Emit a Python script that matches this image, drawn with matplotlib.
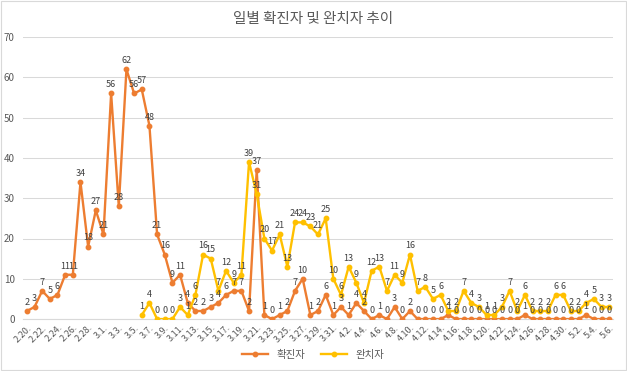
import matplotlib
matplotlib.use("Agg")
import matplotlib.pyplot as plt
from matplotlib.patches import Rectangle

plt.rcParams['font.family'] = ['Noto Sans CJK KR', 'DejaVu Sans']

# dates 2.20 ~ 5.6 (2020, leap year)
dates = (["2.%d." % d for d in range(20, 30)] +
         ["3.%d." % d for d in range(1, 32)] +
         ["4.%d." % d for d in range(1, 31)] +
         ["5.%d." % d for d in range(1, 7)])

confirmed = [2, 3, 7, 5, 6, 11, 11, 34, 18, 27,
             21, 56, 28, 62, 56, 57, 48, 21, 16, 9, 11, 4, 2, 2, 3, 4, 6, 7, 7, 2,
             37, 1, 0, 1, 2, 7, 10, 1, 2, 6, 1,
             3, 1, 4, 2, 0, 1, 0, 3, 0, 2, 0, 0, 0, 0, 1, 0, 0, 0, 0, 0,
             0, 0, 0, 0, 1, 0, 0, 0, 0, 0,
             0, 0, 1, 0, 0, 0]

# recovered starts on 3.6
recovered = [None] * 15 + [1, 4, 0, 0, 0, 3, 1, 6, 16, 15, 7, 12, 9, 11, 39,
                           31, 20, 17, 21, 13, 24, 24, 23, 21, 25, 10,
                           6, 13, 9, 4, 12, 13, 7, 11, 9, 16, 7, 8, 5, 6, 2,
                           2, 7, 4, 3, 1, 1, 3, 7, 2, 6, 2, 2, 2, 6, 6,
                           2, 2, 4, 5, 3, 3]

orange = '#ED7D31'
yellow = '#FFC000'
txt = '#595959'

fig = plt.figure(figsize=(6.27, 3.71), dpi=100)
ax = fig.add_axes([0.0367, 0.140, 0.941, 0.760])

x = list(range(len(dates)))
ax.plot(x, confirmed, color=orange, lw=1.7, marker='o', ms=3.2, label='확진자', zorder=3)
rx = [i for i in x if recovered[i] is not None]
ry = [recovered[i] for i in rx]
ax.plot(rx, ry, color=yellow, lw=1.7, marker='o', ms=3.2, label='완치자', zorder=3)

# data labels
for i, v in enumerate(confirmed):
    ax.annotate(str(v), (i, v), xytext=(0, 3), textcoords='offset points',
                ha='center', va='bottom', fontsize=6.5, color='#404040', zorder=4)
for i, v in zip(rx, ry):
    ax.annotate(str(v), (i, v), xytext=(0, 3), textcoords='offset points',
                ha='center', va='bottom', fontsize=6.5, color='#404040', zorder=4)

ax.set_xlim(-0.5, len(dates) - 0.5)
ax.set_ylim(0, 70)
ax.set_yticks(range(0, 71, 10))
ax.set_xticks(x[::2])
ax.set_xticklabels(dates[::2], rotation=45, ha='right', va='top',
                   rotation_mode='anchor', fontsize=6.5, color=txt)
ax.tick_params(axis='y', labelsize=7, colors=txt, length=0, pad=6)
ax.tick_params(axis='x', length=0, pad=3)
ax.grid(axis='y', color='#D9D9D9', lw=0.75)
ax.set_axisbelow(True)
for s in ['top', 'right', 'left']:
    ax.spines[s].set_visible(False)
ax.spines['bottom'].set_color('#D9D9D9')

fig.suptitle('일별 확진자 및 완치자 추이', y=0.967, fontsize=10.5, color=txt)
fig.legend(loc='lower center', bbox_to_anchor=(0.5, 0.005), ncol=2, frameon=False,
           fontsize=7.5, labelcolor=txt, handlelength=2.5, columnspacing=1.5)

# chart border
fig.patches.append(Rectangle((0.002, 0.003), 0.996, 0.994, transform=fig.transFigure,
                             fill=False, edgecolor='#D9D9D9', lw=0.8))

plt.savefig('out.png', dpi=100)
